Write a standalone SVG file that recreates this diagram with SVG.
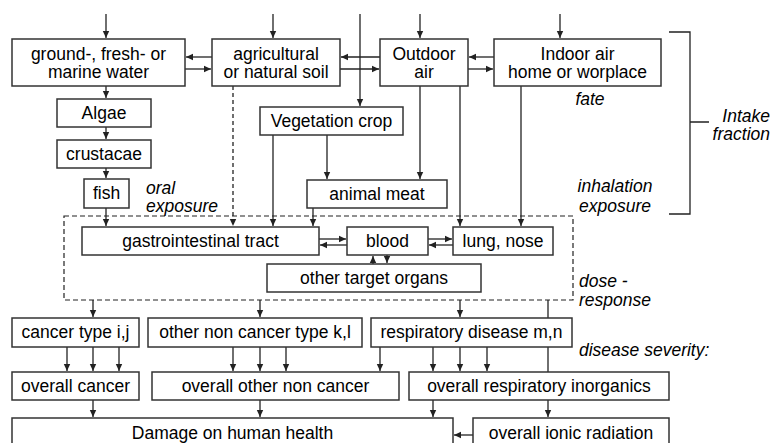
<svg xmlns="http://www.w3.org/2000/svg" width="773" height="443" viewBox="0 0 773 443">
<style>
.b{fill:#fff;stroke:#333;stroke-width:1.5}
.t{font-family:"Liberation Sans",Arial,sans-serif;font-size:17.5px;fill:#000;text-anchor:middle}
.i{font-family:"Liberation Sans",Arial,sans-serif;font-size:17.5px;fill:#000;font-style:italic}
.c{fill:none;stroke:#222;stroke-width:1.3}
.a{marker-end:url(#ah)}
.d{stroke-dasharray:4,3}
</style>
<defs>
<marker id="ah" markerWidth="8" markerHeight="8" refX="7" refY="4" orient="auto" markerUnits="userSpaceOnUse">
<path d="M0,0.8 L7,4 L0,7.2 Z" fill="#222"/>
</marker>
</defs>
<rect width="773" height="443" fill="#fff"/>
<g id="connectors">
<path class="c a" d="M106,14V38"/>
<path class="c a" d="M273,14V38"/>
<path class="c a" d="M420,14V38"/>
<path class="c a" d="M560,14V38"/>
<path class="c a" d="M360,14V106"/>
<path class="c a" d="M212,57H186"/>
<path class="c a" d="M185,69H211"/>
<path class="c a" d="M380,57H341"/>
<path class="c a" d="M340,69H379"/>
<path class="c a" d="M494,57H469"/>
<path class="c a" d="M468,69H493"/>
<path class="c a" d="M106,86V98"/>
<path class="c a" d="M106,127V139"/>
<path class="c a" d="M106,168V178"/>
<path class="c a" d="M106,208V226"/>
<path class="c a d" d="M233,86V226"/>
<path class="c a" d="M273,135V226"/>
<path class="c a" d="M327,135V179"/>
<path class="c a" d="M420,86V179"/>
<path class="c a" d="M460,86V226"/>
<path class="c a" d="M521,86V226"/>
<path class="c a" d="M313,208V226"/>
<path class="c a" d="M319,239H346"/>
<path class="c a" d="M347,245H320"/>
<path class="c a" d="M428,239H452"/>
<path class="c a" d="M453,245H429"/>
<path class="c a" d="M373,264V256"/>
<path class="c a" d="M387,255V263"/>
<path class="c a" d="M93,300V317"/>
<path class="c a" d="M260,300V317"/>
<path class="c a" d="M460,300V317"/>
<path class="c" d="M548,300V372"/>
<path class="c a" d="M67,347V371"/>
<path class="c a" d="M93,347V371"/>
<path class="c a" d="M119,347V371"/>
<path class="c a" d="M233,347V371"/>
<path class="c a" d="M260,347V371"/>
<path class="c a" d="M286,347V371"/>
<path class="c a" d="M380,347V371"/>
<path class="c a" d="M433,347V371"/>
<path class="c a" d="M460,347V371"/>
<path class="c a" d="M487,347V371"/>
<path class="c a" d="M93,400V417"/>
<path class="c a" d="M260,400V417"/>
<path class="c a" d="M433,400V417"/>
<path class="c a" d="M548,400V417"/>
<path class="c a" d="M473,435H454"/>
</g>
<g id="dose-box"><rect x="64" y="216" width="509" height="84" fill="none" stroke="#222" stroke-width="1.2" stroke-dasharray="5,3"/></g>
<g id="bracket"><path d="M669,32H690V214H669M690,122H709" fill="none" stroke="#222" stroke-width="1.3"/></g>
<g id="n-water"><rect class="b" x="12" y="39" width="173" height="47"/><text class="t" x="98.5" y="60">ground-, fresh- or</text><text class="t" x="98.5" y="78">marine water</text></g>
<g id="n-soil"><rect class="b" x="212" y="39" width="128" height="47"/><text class="t" x="276" y="60">agricultural</text><text class="t" x="276" y="78">or natural soil</text></g>
<g id="n-outdoor"><rect class="b" x="380" y="39" width="88" height="47"/><text class="t" x="424" y="60">Outdoor</text><text class="t" x="424" y="78">air</text></g>
<g id="n-indoor"><rect class="b" x="494" y="39" width="167" height="47"/><text class="t" x="577.5" y="60">Indoor air</text><text class="t" x="577.5" y="78">home or worplace</text></g>
<g id="n-algae"><rect class="b" x="57" y="99" width="94" height="28"/><text class="t" x="104" y="119">Algae</text></g>
<g id="n-crustacae"><rect class="b" x="57" y="140" width="94" height="28"/><text class="t" x="104" y="160">crustacae</text></g>
<g id="n-fish"><rect class="b" x="84" y="179" width="45" height="29"/><text class="t" x="106.5" y="199">fish</text></g>
<g id="n-veg"><rect class="b" x="260" y="107" width="143" height="28"/><text class="t" x="331.5" y="127">Vegetation crop</text></g>
<g id="n-meat"><rect class="b" x="307" y="180" width="140" height="28"/><text class="t" x="377" y="200">animal meat</text></g>
<g id="n-gi"><rect class="b" x="82" y="227" width="237" height="28"/><text class="t" x="200.5" y="247">gastrointestinal tract</text></g>
<g id="n-blood"><rect class="b" x="347" y="227" width="81" height="28"/><text class="t" x="387.5" y="247">blood</text></g>
<g id="n-lung"><rect class="b" x="453" y="227" width="100" height="28"/><text class="t" x="503" y="247">lung, nose</text></g>
<g id="n-organs"><rect class="b" x="267" y="264" width="214" height="28"/><text class="t" x="374" y="284">other target organs</text></g>
<g id="n-cancer-type"><rect class="b" x="12" y="318" width="127" height="29"/><text class="t" x="75.5" y="338">cancer type i,j</text></g>
<g id="n-noncancer-type"><rect class="b" x="148" y="318" width="214" height="29"/><text class="t" x="255" y="338">other non cancer type k,l</text></g>
<g id="n-resp-disease"><rect class="b" x="371" y="318" width="201" height="29"/><text class="t" x="471.5" y="338">respiratory disease m,n</text></g>
<g id="n-overall-cancer"><rect class="b" x="12" y="372" width="127" height="28"/><text class="t" x="75.5" y="392">overall cancer</text></g>
<g id="n-overall-noncancer"><rect class="b" x="152" y="372" width="247" height="28"/><text class="t" x="275.5" y="392">overall other non cancer</text></g>
<g id="n-overall-resp"><rect class="b" x="409" y="372" width="260" height="28"/><text class="t" x="539" y="392">overall respiratory inorganics</text></g>
<g id="n-damage"><rect class="b" x="12" y="418" width="441" height="32"/><text class="t" x="232.5" y="439">Damage on human health</text></g>
<g id="n-ionic"><rect class="b" x="473" y="418" width="196" height="32"/><text class="t" x="571" y="439">overall ionic radiation</text></g>
<g id="labels">
<text class="i" x="590" y="105" text-anchor="middle">fate</text>
<text class="i" x="770" y="122" text-anchor="end">Intake</text>
<text class="i" x="770" y="140" text-anchor="end">fraction</text>
<text class="i" x="615" y="192" text-anchor="middle">inhalation</text>
<text class="i" x="615" y="212" text-anchor="middle">exposure</text>
<text class="i" x="146" y="194">oral</text>
<text class="i" x="146" y="212">exposure</text>
<text class="i" x="579" y="287">dose -</text>
<text class="i" x="579" y="306">response</text>
<text class="i" x="579" y="356">disease severity:</text>
</g>
</svg>
